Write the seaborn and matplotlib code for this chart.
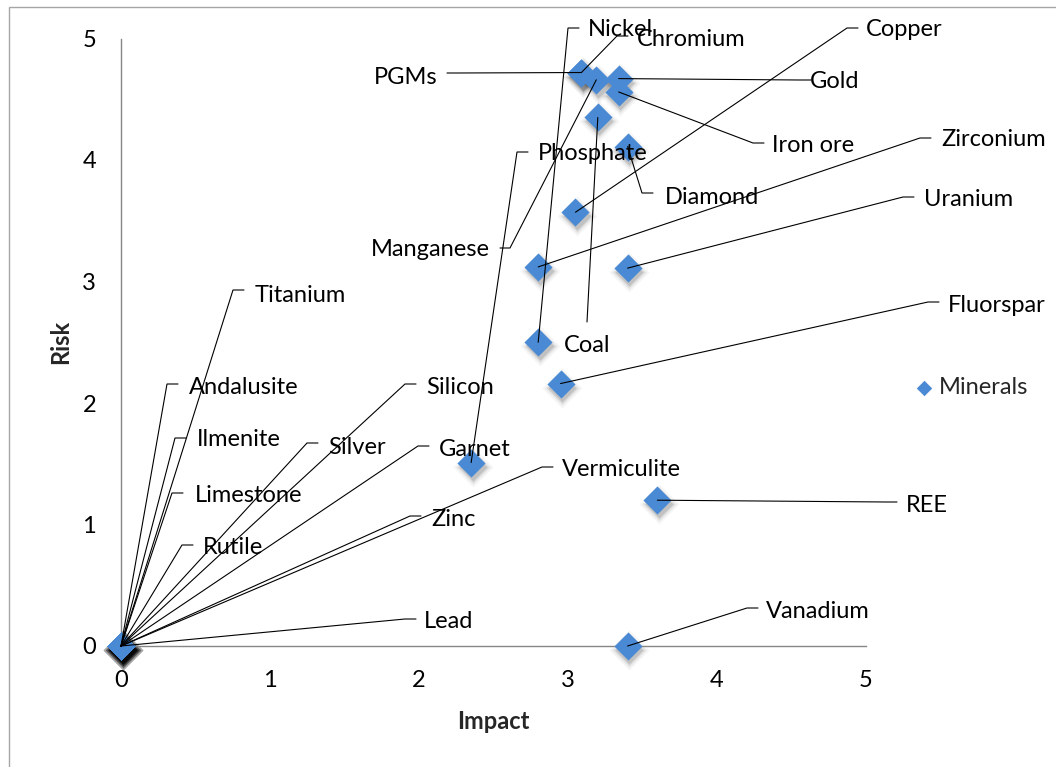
import matplotlib
matplotlib.use("Agg")
import matplotlib.pyplot as plt
import seaborn as sns
import pandas as pd
from matplotlib.transforms import offset_copy
from matplotlib.patches import Rectangle

# ---------------- data ----------------
minerals = ["Nickel", "Chromium", "PGMs", "Manganese", "Gold", "Iron ore", "Coal",
            "Diamond", "Copper", "Zirconium", "Uranium", "Fluorspar", "Phosphate",
            "REE", "Vanadium",
            "Titanium", "Andalusite", "Ilmenite", "Limestone", "Rutile", "Silver",
            "Silicon", "Garnet", "Zinc", "Vermiculite", "Lead"]
impact = [2.80, 3.09, 3.09, 3.19, 3.34, 3.34, 3.20,
          3.40, 3.05, 2.80, 3.40, 2.95, 2.35,
          3.60, 3.40,
          0, 0, 0, 0, 0, 0, 0, 0, 0, 0, 0]
risk = [2.50, 4.72, 4.72, 4.66, 4.67, 4.56, 4.35,
        4.11, 3.57, 3.12, 3.11, 2.16, 1.51,
        1.20, 0.00,
        0, 0, 0, 0, 0, 0, 0, 0, 0, 0, 0]
x_ticks = [0, 1, 2, 3, 4, 5]
y_ticks = [0, 1, 2, 3, 4, 5]
series_name = "Minerals"
x_title = "Impact"
y_title = "Risk"

df = pd.DataFrame({"Mineral": minerals, "Impact": impact, "Risk": risk})

# ---------------- layout (reference-pixel positions of the data labels) ----------------
W, H = 1056, 767
AX_L, AX_R, AX_T, AX_B = 121, 866, 38.5, 646
# name: (leader elbow px, text anchor px, alignment)
LABELS = {
    "Copper": ((847, 28), (866, 28), "left"),
    "Gold": ((800, 80), (810, 80), "left"),
    "Iron ore": ((753, 143), (772, 143), "left"),
    "Zirconium": ((920, 138), (941, 138), "left"),
    "Uranium": ((903, 197), (924, 197), "left"),
    "Diamond": ((642, 193), (665, 195), "left"),
    "Fluorspar": ((928, 302), (948, 303), "left"),
    "REE": ((886, 502), (906, 503), "left"),
    "Vanadium": ((747, 608), (766, 610), "left"),
    "Phosphate": ((517, 152), (538, 152), "left"),
    "Nickel": ((568, 28), (588, 28), "left"),
    "Chromium": ((617, 36), (637, 38), "left"),
    "Titanium": ((233, 290), (255, 293), "left"),
    "Andalusite": ((167, 384), (189, 386), "left"),
    "Ilmenite": ((175, 438), (197, 438), "left"),
    "Limestone": ((172, 493), (195, 494), "left"),
    "Rutile": ((182, 545), (203, 546), "left"),
    "Silver": ((307, 443), (328, 445), "left"),
    "Silicon": ((405, 384), (426, 386), "left"),
    "Garnet": ((418, 446), (439, 447), "left"),
    "Zinc": ((410, 516), (431, 518), "left"),
    "Vermiculite": ((542, 467), (562, 468), "left"),
    "Lead": ((405, 619), (424, 620), "left"),
    "PGMs": ((457, 73), (438, 75), "right"),
    "Manganese": ((510, 248), (490, 248), "right"),
    "Coal": ((587, 322), (587, 343), "center"),
}

def px2data(px, py):
    return ((px - AX_L) / (AX_R - AX_L) * 5.0, (AX_B - py) / (AX_B - AX_T) * 5.0)

# ---------------- style ----------------
sns.set_style("white")
plt.rcParams["font.family"] = ["Lato", "DejaVu Sans"]
FS = 17
BLUE = "#4A8AD4"
GRAY = "#868686"

fig = plt.figure(figsize=(W / 100, H / 100), dpi=100)
ax = fig.add_axes([AX_L / W, (H - AX_B) / H, (AX_R - AX_L) / W, (AX_B - AX_T) / H])

# chart-area border
fig.patches.append(Rectangle((9 / W, -0.02), 1.05, (H - 7) / H + 0.02, transform=fig.transFigure,
                             fill=False, edgecolor="#A6A6A6", linewidth=1.0, zorder=0))

# soft drop shadows under markers
for s, a in [(420, 0.035), (320, 0.05), (250, 0.07), (200, 0.10)]:
    tr = offset_copy(ax.transData, fig=fig, x=1.5, y=-4, units="dots")
    ax.scatter(df["Impact"], df["Risk"], s=s, marker="D", color="black", alpha=a,
               linewidths=0, transform=tr, zorder=2, clip_on=False)

sns.scatterplot(data=df, x="Impact", y="Risk", marker="D", s=205, color=BLUE,
                linewidth=0, label=series_name, ax=ax, zorder=3, clip_on=False)

# leader lines and labels
for name, xv, yv in zip(minerals, impact, risk):
    (ex, ey), (tx, ty), ha = LABELS[name]
    elbow = px2data(ex, ey)
    if ha == "left":
        tick = px2data(ex + 11, ey)
        pts = [(xv, yv), elbow, tick]
    elif ha == "right":
        tick = px2data(ex - 10, ey)
        pts = [(xv, yv), elbow, tick]
    else:
        pts = [(xv, yv), elbow]
    ax.plot([p[0] for p in pts], [p[1] for p in pts], color="black", lw=0.8,
            zorder=4, clip_on=False, solid_joinstyle="miter")
    txd = px2data(tx, ty + 8.5)
    ax.text(txd[0], txd[1], name, ha=ha, va="baseline", fontsize=FS, color="black",
            zorder=5, clip_on=False)

# axes styling
ax.set_xlim(0, 5)
ax.set_ylim(0, 5)
ax.set_xticks(x_ticks)
ax.set_yticks(y_ticks)
ax.set_xticklabels([str(v) for v in x_ticks])
ax.set_yticklabels([str(v) for v in y_ticks])
for side in ["top", "right"]:
    ax.spines[side].set_visible(False)
for side in ["left", "bottom"]:
    ax.spines[side].set_color(GRAY)
    ax.spines[side].set_linewidth(1.0)
ax.tick_params(axis="both", direction="out", length=5, width=1, color=GRAY,
               labelsize=FS, labelcolor="black")
ax.tick_params(axis="x", pad=12)
ax.tick_params(axis="y", pad=13)
ax.set_xlabel(x_title, fontsize=FS, fontweight="bold", labelpad=14)
ax.set_ylabel(y_title, fontsize=FS, fontweight="bold", labelpad=7)
ax.grid(False)

leg = ax.legend(loc="center left", bbox_to_anchor=(903 / W, (H - 388) / H),
                bbox_transform=fig.transFigure, frameon=False, fontsize=FS,
                markerscale=0.55, handletextpad=0.1, borderaxespad=0, handlelength=1.0)

fig.savefig("out.png", dpi=100)
